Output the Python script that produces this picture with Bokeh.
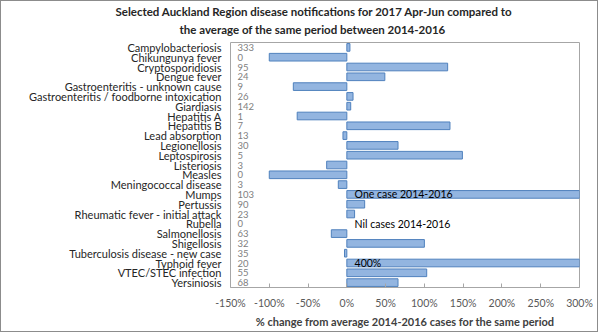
from bokeh.plotting import figure
from bokeh.models import FactorRange, Range1d, FixedTicker, PrintfTickFormatter, Title, ColumnDataSource
from bokeh.core.properties import value
from bokeh.embed import file_html
from bokeh.resources import INLINE

NaN = float("nan")

diseases = [
    "Campylobacteriosis", "Chikungunya fever", "Cryptosporidiosis", "Dengue fever",
    "Gastroenteritis - unknown cause", "Gastroenteritis / foodborne intoxication",
    "Giardiasis", "Hepatitis A", "Hepatitis B", "Lead absorption", "Legionellosis",
    "Leptospirosis", "Listeriosis", "Measles", "Meningococcal disease", "Mumps",
    "Pertussis", "Rheumatic fever - initial attack", "Rubella", "Salmonellosis",
    "Shigellosis", "Tuberculosis disease - new case", "Typhoid fever",
    "VTEC/STEC infection", "Yersiniosis",
]
cases_2017 = [333, 0, 95, 24, 9, 26, 142, 1, 7, 13, 30, 5, 3, 0, 3, 103, 90, 23, 0, 63, 32, 35, 20, 55, 68]
pct_change = [4, -100, 130, 49, -69, 8, 5, -64, 133, -5, 66, 149, -26, -100, -11, 30800,
              23, 10, NaN, -20, 100, -3, 400, 103, 66]
note_diseases = ["Mumps", "Rubella", "Typhoid fever"]
note_texts = ["One case 2014-2016", "Nil cases 2014-2016", "400%"]
x_ticks = [-150, -100, -50, 0, 50, 100, 150, 200, 250, 300]
title_lines = ["Selected Auckland Region disease notifications for 2017 Apr-Jun compared to",
               "the average of the same period between 2014-2016"]

FONT = "Lato"

p = figure(width=598, height=332,
           y_range=FactorRange(factors=diseases[::-1], range_padding=0),
           x_range=Range1d(-150, 300),
           output_backend="svg", toolbar_location=None,
           min_border_left=229, min_border_right=20, min_border_top=6, min_border_bottom=46)
p.styles = {"border": "1px solid #8c8c8c"}
p.title = None

src = ColumnDataSource(dict(disease=diseases, pct=pct_change, cases=[str(c) for c in cases_2017]))
p.hbar(y="disease", left=0, right="pct", height=0.78, source=src,
       fill_color="#93b5e0", line_color="#4f81bd", line_width=1)
p.text(x=-141, y="disease", text="cases", source=src, text_font=value(FONT),
       text_font_size="9.5px", text_color="#808080", text_baseline="middle", text_align="left")
p.text(x=10, y=note_diseases, text=note_texts, text_font=value(FONT),
       text_font_size="10.5px", text_color="#000000", text_baseline="middle", text_align="left")

p.xgrid.visible = False
p.ygrid.visible = False
p.outline_line_color = "#a6a6a6"

xa = p.xaxis[0]
xa.ticker = FixedTicker(ticks=x_ticks)
xa.formatter = PrintfTickFormatter(format="%d%%")
xa.axis_line_color = None
xa.major_tick_in = 4
xa.major_tick_out = 0
xa.major_tick_line_color = "#a6a6a6"
xa.minor_tick_line_color = None
xa.major_label_text_font = FONT
xa.major_label_text_font_size = "10.5px"
xa.major_label_text_color = "#595959"
xa.major_label_standoff = 9
xa.axis_label = "% change from average 2014-2016 cases for the same period"
xa.axis_label_text_font = FONT
xa.axis_label_text_font_size = "11px"
xa.axis_label_text_font_style = "bold"
xa.axis_label_text_color = "#404040"
xa.axis_label_standoff = 3

ya = p.yaxis[0]
ya.axis_line_color = None
ya.major_tick_line_color = None
ya.minor_tick_line_color = None
ya.major_label_text_font = FONT
ya.major_label_text_font_size = "11px"
ya.major_label_text_color = "#262626"
ya.major_label_standoff = 3

# small spacer between the title and the plot area
p.add_layout(Title(text=" ", text_font_size="3px", standoff=0), "above")
offsets = [-115, -51]
for txt, off in reversed(list(zip(title_lines, offsets))):
    p.add_layout(Title(text=txt, align="left", offset=off, text_font=FONT,
                       text_font_size="11.5px", text_font_style="bold",
                       text_color="#262626", standoff=3), "above")

open("out.html", "w").write(file_html(p, INLINE))
